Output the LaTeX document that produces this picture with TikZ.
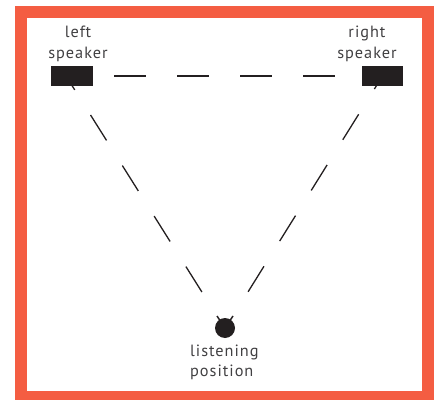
\documentclass[tikz,border=0pt]{standalone}
\usepackage{fontspec}
\setmainfont[LetterSpace=6]{PT Sans}
\definecolor{framered}{RGB}{244,93,66}
\definecolor{speakerblack}{RGB}{35,31,32}
\definecolor{labelgrey}{RGB}{65,64,66}
\tikzset{
  speakerbox/.style={fill=speakerblack,inner sep=0pt,minimum width=41.5pt,minimum height=20pt},
  headdot/.style={circle,fill=speakerblack,inner sep=0pt,minimum size=20pt},
  caption/.style={text=labelgrey,font=\fontsize{16.3}{20.7}\selectfont,align=center,inner sep=0pt},
  sightline/.style={color=speakerblack,line width=1.3pt,dash pattern=on 30pt off 29.7pt},
  earline/.style={color=speakerblack,line width=1.5pt},
}
\begin{document}
\begin{tikzpicture}[line cap=butt,x=1pt,y=1pt]
\useasboundingbox (0,0) rectangle (438,399);
\draw [framered,line width=11.5pt] (21.2,2) rectangle (428,387);
\node [speakerbox] (leftspeaker) at (72,323) {};
\node [speakerbox] (rightspeaker) at (382.5,323) {};
\node [headdot] (head) at (225,71) {};
\node [caption,anchor=south] (leftlabel) at (78,337) {left\\speaker};
\node [caption,anchor=south] (rightlabel) at (367,337) {right\\speaker};
\node [caption,align=left,anchor=north west] (headlabel) at (190,54.5) {listening\\position};
\coordinate (leftear) at (217,83);
\coordinate (rightear) at (233,83);
\coordinate (leftstart) at (66,323);
% the stereo triangle
\draw [sightline,dash pattern=on 32pt off 31pt,dash phase=21pt] (leftspeaker.center) -- (rightspeaker.center);
\draw [sightline,dash phase=13.6pt] (leftstart) -- (leftear);
\draw [sightline,dash phase=14.6pt] (rightspeaker.center) -- (rightear);
\draw [earline] (leftear) -- (head.center);
\draw [earline] (rightear) -- (head.center);
\end{tikzpicture}
\end{document}
